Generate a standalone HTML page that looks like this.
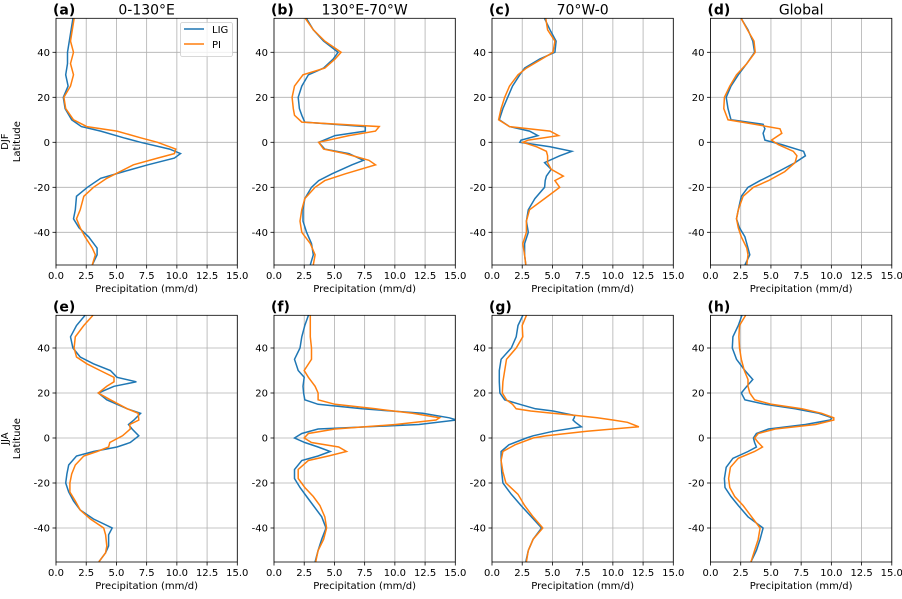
<!DOCTYPE html>
<html><head><meta charset="utf-8"><style>
body{margin:0;background:#fff;}
svg text{font-family:"DejaVu Sans","Liberation Sans",sans-serif;}
</style></head><body>
<svg id="chart" width="902" height="594" xmlns="http://www.w3.org/2000/svg"></svg>
<script>
// ---- data (latitude, LIG, PI) per panel ----
const latA=[55,45,40,35,30,25,20,15,10,7,5,2,0,-3,-5,-7,-10,-13,-16,-20,-24,-30,-34,-38,-42,-47,-50,-54.5];
const ligA=[1.4,1.1,0.95,0.95,0.8,1.0,0.6,0.75,1.3,2.1,3.7,5.6,7.0,9.4,10.3,9.8,7.6,5.6,3.7,2.6,1.7,1.6,1.45,1.9,2.7,3.4,3.4,3.0];
const piA=[1.5,1.2,1.45,1.2,1.45,1.2,0.65,0.8,1.45,2.55,5.05,7.0,8.4,9.9,9.8,8.4,6.4,5.3,4.2,3.1,2.3,2.0,1.7,2.0,2.4,3.0,3.25,3.0];
const latB=[55,50,45,40,37,33,30,25,20,15,12,9,7,5,3,0,-3,-5,-8,-10,-14,-17,-20,-25,-30,-35,-40,-45,-50,-54.5];
const ligB=[2.7,3.25,4.1,5.3,4.9,4.1,2.85,2.3,2.0,2.1,2.3,2.55,7.55,7.55,5.05,3.7,4.2,6.2,7.4,6.45,4.8,3.7,3.1,2.55,2.4,2.4,2.7,3.1,3.25,3.0];
const piB=[2.6,3.25,4.2,5.55,5.05,4.2,2.4,1.7,1.5,1.6,1.7,2.3,8.7,8.4,6.2,3.7,4.1,5.9,7.85,8.4,5.9,4.2,3.4,2.55,2.3,2.15,2.3,3.0,3.4,3.25];
const latC=[55,50,45,40,37,33,30,25,20,15,10,7,5,3,1,0,-2,-4,-6,-9,-12,-15,-17,-20,-25,-30,-35,-40,-45,-50,-54.5];
const ligC=[4.35,4.8,5.3,5.2,3.95,2.7,2.3,1.7,1.3,0.9,0.6,1.45,3.1,3.8,2.4,2.3,4.8,6.6,5.6,4.35,4.9,4.5,4.4,4.35,3.55,3.0,2.85,3.0,2.7,2.7,2.8];
const piC=[4.45,4.6,5.2,5.05,4.1,2.85,2.15,1.45,1.05,0.75,0.55,1.45,4.8,5.5,3.0,2.55,3.7,4.5,4.6,4.6,4.9,5.9,5.2,5.6,4.35,3.1,2.85,2.85,2.55,2.7,2.8];
const latD=[55,50,45,40,35,30,25,20,15,10,8,6,4,1,-1,-4,-6,-9,-13,-17,-20,-24,-30,-34,-38,-42,-47,-50,-54.5];
const ligD=[2.55,3.1,3.5,3.65,3.0,2.3,1.7,1.3,1.45,1.7,4.35,4.5,4.35,4.5,5.9,7.7,7.85,7.0,5.6,4.1,3.1,2.55,2.3,2.15,2.4,2.85,3.1,3.25,2.85];
const piD=[2.55,3.05,3.6,3.7,3.0,2.15,1.6,1.15,1.1,1.45,3.65,5.75,5.9,5.05,5.6,6.85,7.15,7.0,6.15,4.8,3.55,2.7,2.3,2.15,2.3,2.55,3.0,3.1,3.0];
const latE=[54.5,50,45,40,36,33,30,27,25,23,20,17,13,11,8,6,4,1,-2,-4,-6,-8,-12,-16,-20,-24,-28,-32,-36,-40,-43,-48,-51,-55];
const ligE=[2.4,1.7,1.2,1.4,2.0,3.1,4.5,5.05,6.65,4.8,3.5,4.2,5.9,7.0,6.45,6.0,6.3,6.85,6.15,5.05,3.1,1.7,1.05,0.9,0.8,1.05,1.45,2.0,3.1,4.65,4.35,4.35,4.1,3.55];
const piE=[3.05,2.3,1.6,1.5,1.7,2.55,3.65,4.8,4.8,4.2,3.5,4.5,5.9,6.8,6.85,6.1,6.15,5.5,4.45,4.35,3.4,2.3,1.6,1.3,1.15,1.15,1.6,2.0,2.85,3.95,4.1,4.2,4.1,3.55];
const latF=[54.5,50,45,40,35,30,27,23,20,17,15,13,11,9,8,6,4,2,0,-2,-4,-6,-8,-10,-14,-18,-22,-26,-30,-35,-40,-45,-50,-55];
const ligF=[2.85,2.55,2.3,2.15,1.7,2.0,2.5,2.4,2.45,2.55,3.65,7.3,12.3,14.5,15.1,12.0,3.65,2.3,1.7,2.55,3.65,4.65,3.65,2.3,1.7,1.7,2.15,2.7,3.25,3.95,4.3,3.95,3.65,3.4];
const piF=[3.0,3.0,3.0,3.1,3.1,2.5,2.85,3.4,3.65,3.65,5.05,8.4,11.45,13.7,13.4,10.05,5.05,2.85,2.5,3.1,5.35,6.0,4.5,2.85,2.0,2.0,2.55,3.25,3.8,4.2,4.35,4.1,3.65,3.45];
const latG=[54.5,50,45,40,35,30,25,20,17,15,13,12,11,10,9,8,7,5,3,1,0,-3,-6,-10,-15,-20,-25,-30,-35,-40,-45,-50,-55];
const ligG=[2.55,2.15,2.0,1.6,0.75,0.6,0.6,0.65,1.05,2.3,3.6,5.05,6.0,6.85,6.8,6.7,6.9,7.4,5.05,3.4,2.85,1.4,0.75,0.75,0.8,0.9,1.6,2.4,3.25,4.1,3.4,3.0,2.8];
const piG=[2.85,2.5,2.55,2.0,1.2,1.05,0.9,0.85,1.2,1.7,2.0,3.2,5.0,7.0,8.7,10.0,11.2,12.15,7.85,4.5,3.4,1.9,0.9,0.75,0.9,1.15,2.15,2.7,3.4,4.2,3.4,3.0,2.85];
const latH=[54.5,50,45,40,35,30,26,23,20,17,15,13,11,9,8,6,4,2,0,-2,-4,-6,-9,-13,-18,-22,-26,-30,-35,-40,-45,-50,-55];
const ligH=[2.6,2.3,1.85,1.8,2.15,2.85,3.5,3.0,2.55,2.85,4.5,7.0,8.95,10.05,9.9,7.85,4.8,3.8,3.55,3.65,3.8,3.1,1.85,1.3,1.15,1.2,1.7,2.3,3.1,4.35,4.1,3.8,3.35];
const piH=[2.9,2.4,2.35,2.4,2.55,2.8,3.1,3.1,3.25,3.65,5.05,7.55,9.2,10.2,10.2,8.7,5.35,3.95,3.65,3.95,4.3,3.65,2.3,1.65,1.5,1.6,2.0,2.7,3.4,4.1,3.95,3.65,3.35];
const xTicks=["0.0","2.5","5.0","7.5","10.0","12.5","15.0"];
const yTicks=[-40,-20,0,20,40];
const panelLetters=["(a)","(b)","(c)","(d)","(e)","(f)","(g)","(h)"];
const regionTitles=["0-130°E","130°E-70°W","70°W-0","Global"];

const panels=[[latA,ligA,piA],[latB,ligB,piB],[latC,ligC,piC],[latD,ligD,piD],[latE,ligE,piE],[latF,ligF,piF],[latG,ligG,piG],[latH,ligH,piH]];
const NS="http://www.w3.org/2000/svg";
const svg=document.getElementById('chart');
function mk(tag,attrs,parent){const e=document.createElementNS(NS,tag);for(const k in attrs)e.setAttribute(k,attrs[k]);(parent||svg).appendChild(e);return e;}
const lefts=[56,274,492,710.5];
const W=181.3, PXDEG=2.25;
const rows=[{top:18.3,bot:265,zero:142.3},{top:315.3,bot:562,zero:438}];
panels.forEach((p,i)=>{
  const r=rows[Math.floor(i/4)], L=lefts[i%4];
  const xs=v=>L+v/15*W, ys=lat=>r.zero-lat*PXDEG;
  const g=mk('g',{});
  
  
  const cid='clip'+i;
  const cp=mk('clipPath',{id:cid},g);mk('rect',{x:L,y:r.top,width:W,height:r.bot-r.top},cp);
  xTicks.forEach((t,k)=>{const x=xs(k*2.5);
    const gl=mk('line',{x1:x,x2:x,y1:r.top,y2:r.bot,stroke:'#b0b0b0','stroke-width':0.8},g);
    
    mk('line',{x1:x,x2:x,y1:r.bot,y2:r.bot+3.5,stroke:'#000','stroke-width':0.8},g);
    const tt=mk('text',{x:x,y:r.bot+14,'font-size':10,'text-anchor':'middle'},g);tt.textContent=t;
    
  });
  yTicks.forEach(v=>{const y=ys(v);
    const gl=mk('line',{x1:L,x2:L+W,y1:y,y2:y,stroke:'#b0b0b0','stroke-width':0.8},g);
    
    mk('line',{x1:L-3.5,x2:L,y1:y,y2:y,stroke:'#000','stroke-width':0.8},g);
    const tt=mk('text',{x:L-6,y:y+3.5,'font-size':10,'text-anchor':'end'},g);tt.textContent=v;
    
  });
  const series=[[p[1],'#1f77b4','lig-line'],[p[2],'#ff7f0e','pi-line']];
  series.forEach(s=>{
    const d=p[0].map((lat,k)=>(k?'L':'M')+xs(s[0][k]).toFixed(1)+','+ys(lat).toFixed(1)).join(' ');
    const pl=mk('path',{d:d,fill:'none',stroke:s[1],'stroke-width':1.5,'clip-path':'url(#'+cid+')'},g);
    
  });
  const fr=mk('rect',{x:L,y:r.top,width:W,height:r.bot-r.top,fill:'none',stroke:'#000','stroke-width':0.8},g);
  
  const lt=mk('text',{x:L-3,y:r.top-4,'font-size':14,'font-weight':'bold'},g);lt.textContent=panelLetters[i];
  
  if(i<4){const tt=mk('text',{x:L+W/2,y:r.top-4,'font-size':14,'text-anchor':'middle'},g);tt.textContent=regionTitles[i];
    }
  const xl=mk('text',{x:L+W/2,y:r.bot+27,'font-size':10,'text-anchor':'middle'},g);xl.textContent='Precipitation (mm/d)';
  
  if(i%4===0){const cy=(r.top+r.bot)/2;
    const a=mk('text',{x:0,y:0,'font-size':10,'text-anchor':'middle',transform:`translate(8,${cy}) rotate(-90)`},g);a.textContent=i?'JJA':'DJF';
    
    const b=mk('text',{x:0,y:0,'font-size':10,'text-anchor':'middle',transform:`translate(20,${cy}) rotate(-90)`},g);b.textContent='Latitude';
    }
});
const lg=mk('g',{});


mk('rect',{x:180.5,y:22.5,width:52,height:34,rx:2,fill:'#fff','fill-opacity':0.8,stroke:'#ccc','stroke-width':0.8},lg);
[['LIG','#1f77b4',33],['PI','#ff7f0e',48]].forEach(e=>{
  const en=mk('g',{},lg);
  
  
  mk('line',{x1:184,x2:204,y1:e[2]-4,y2:e[2]-4,stroke:e[1],'stroke-width':1.5},en);
  const t=mk('text',{x:212,y:e[2],'font-size':10},en);t.textContent=e[0];
});
</script>
</body></html>
